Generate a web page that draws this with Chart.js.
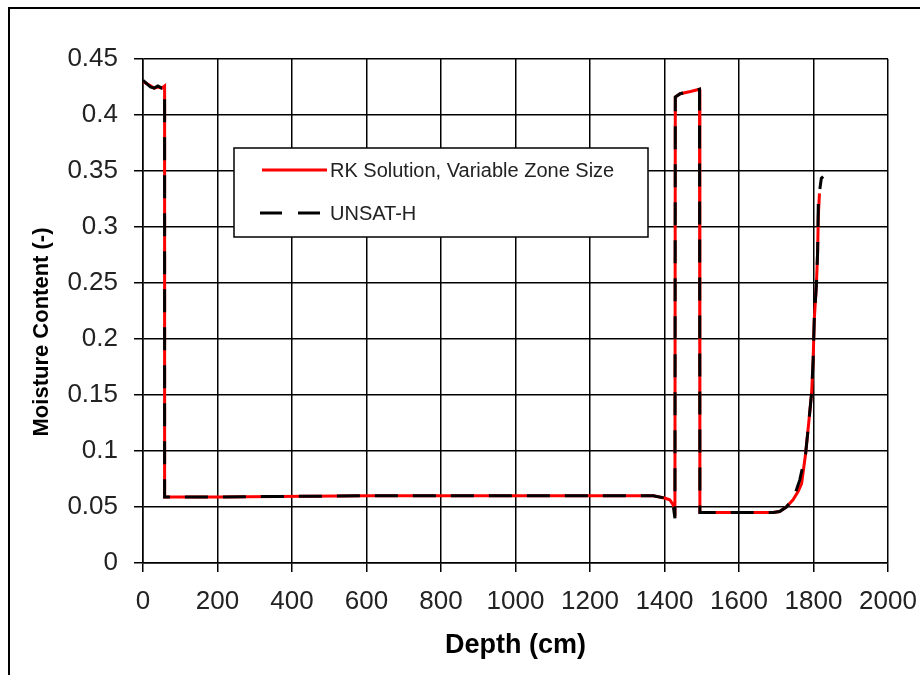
<!DOCTYPE html>
<html>
<head>
<meta charset="utf-8">
<script src="https://cdn.jsdelivr.net/npm/chart.js@4"></script>
<style>
  html, body { margin: 0; padding: 0; background: #fff; }
  #wrap { width: 920px; height: 675px; }
</style>
</head>
<body>
<div id="wrap"><canvas id="chart" width="920" height="675"></canvas></div>
<script>
// ===============================
// Données
// ===============================
const rkDepth = [0, 10, 20, 30, 40, 50, 58, 58, 200, 600, 1000, 1370, 1400, 1414, 1423, 1428,
  1429, 1442, 1470, 1494, 1495, 1600, 1692, 1709, 1727, 1745, 1759, 1768, 1779, 1788, 1795,
  1799, 1802, 1808, 1811, 1813, 1816];
const rkMoisture = [0.430, 0.428, 0.426, 0.424, 0.425, 0.424, 0.426, 0.059, 0.059, 0.060, 0.060,
  0.060, 0.058, 0.0565, 0.052, 0.048, 0.416, 0.419, 0.421, 0.423, 0.045, 0.045, 0.045, 0.046,
  0.050, 0.0565, 0.064, 0.071, 0.098, 0.128, 0.152, 0.181, 0.217, 0.250, 0.277, 0.31, 0.33];

const unsatDepth = [0, 10, 20, 30, 40, 50, 58, 58, 200, 600, 1000, 1370, 1400, 1414, 1423, 1428,
  1429, 1442, 1470, 1494, 1495, 1600, 1692, 1709, 1727, 1736, 1745, 1763, 1779, 1788, 1795,
  1799, 1802, 1808, 1811, 1813, 1821, 1826];
const unsatMoisture = [0.431, 0.428, 0.425, 0.424, 0.426, 0.424, 0.425, 0.059, 0.059, 0.060, 0.060,
  0.060, 0.058, 0.0565, 0.052, 0.040, 0.416, 0.419, 0.421, 0.423, 0.045, 0.045, 0.045, 0.046,
  0.050, 0.0535, 0.0565, 0.074, 0.098, 0.128, 0.152, 0.181, 0.217, 0.250, 0.277, 0.324, 0.3435, 0.345];

const seriesLabels = ["RK Solution, Variable Zone Size", "UNSAT-H"];
const xTitle = "Depth (cm)";
const yTitle = "Moisture Content (-)";

const toPoints = (xs, ys) => xs.map((x, i) => ({ x: x, y: ys[i] }));

const fontFamily = "'Liberation Sans', Arial, sans-serif";

// ===============================
// Cadre, titre Y + légende maison
// ===============================
const framePlugin = {
  id: "frame",
  beforeDraw(chart) {
    const ctx = chart.ctx;
    ctx.save();
    ctx.fillStyle = "#fff";
    ctx.fillRect(0, 0, chart.width, chart.height);
    ctx.strokeStyle = "#000";
    ctx.lineWidth = 2;
    ctx.beginPath();
    ctx.moveTo(9, chart.height + 5);
    ctx.lineTo(9, 8);
    ctx.lineTo(chart.width + 5, 8);
    ctx.stroke();
    ctx.restore();
  },
  afterDraw(chart) {
    const ctx = chart.ctx;
    ctx.save();

    // titre axe Y (un peu sous le centre, comme l'original)
    ctx.save();
    ctx.translate(42, 332);
    ctx.rotate(-Math.PI / 2);
    ctx.fillStyle = "#000";
    ctx.font = "bold 22px " + fontFamily;
    ctx.textAlign = "center";
    ctx.textBaseline = "middle";
    ctx.fillText(yTitle, 0, 0);
    ctx.restore();

    // légende
    ctx.fillStyle = "#fff";
    ctx.fillRect(234, 148, 414, 89);
    ctx.strokeStyle = "#000";
    ctx.lineWidth = 1.5;
    ctx.strokeRect(234, 148, 414, 89);

    ctx.lineWidth = 3;
    ctx.strokeStyle = "#ff0000";
    ctx.beginPath();
    ctx.moveTo(262, 170);
    ctx.lineTo(327, 170);
    ctx.stroke();

    ctx.strokeStyle = "#000";
    ctx.setLineDash([22, 16]);
    ctx.beginPath();
    ctx.moveTo(260, 213);
    ctx.lineTo(322, 213);
    ctx.stroke();
    ctx.setLineDash([]);

    ctx.fillStyle = "#222";
    ctx.font = "20px " + fontFamily;
    ctx.textBaseline = "middle";
    ctx.fillText(seriesLabels[0], 330, 171);
    ctx.fillText(seriesLabels[1], 330, 214);
    ctx.restore();
  }
};

// ===============================
// Graphique
// ===============================
const tickFont = { family: fontFamily, size: 26 };

new Chart(document.getElementById("chart"), {
  type: "scatter",
  data: {
    datasets: [{
      label: seriesLabels[0],
      data: toPoints(rkDepth, rkMoisture),
      showLine: true,
      borderColor: "#ff0000",
      borderWidth: 3,
      pointRadius: 0,
      order: 1
    },
    {
      label: seriesLabels[1],
      data: toPoints(unsatDepth, unsatMoisture),
      showLine: true,
      borderColor: "#000",
      borderWidth: 3,
      borderDash: [23, 15],
      pointRadius: 0,
      order: 0
    }]
  },
  options: {
    responsive: false,
    animation: false,
    layout: { padding: { left: 0, top: 59, right: 32, bottom: 0 } },
    plugins: {
      legend: { display: false },
      tooltip: { enabled: false }
    },
    scales: {
      x: {
        type: "linear",
        min: 0,
        max: 2000,
        afterFit: (s) => { s.height = 112; s.paddingLeft = 0; s.paddingRight = 0; },
        ticks: {
          stepSize: 200, color: "#222", font: tickFont, padding: 14, maxRotation: 0,
          callback: (v) => String(v)
        },
        grid: { color: "#000", lineWidth: 1.5, tickLength: 9 },
        border: { color: "#000", width: 1.5 },
        title: {
          display: true, text: xTitle, color: "#000",
          font: { family: fontFamily, size: 27, weight: "bold" },
          padding: { top: 0, bottom: 13 }
        }
      },
      y: {
        min: 0,
        max: 0.45,
        afterFit: (s) => { s.width = 143; s.paddingTop = 0; s.paddingBottom = 0; },
        ticks: {
          stepSize: 0.05, color: "#222", font: tickFont, padding: 16,
          callback: (v) => String(Number(v.toFixed(2)))
        },
        grid: { color: "#000", lineWidth: 1.5, tickLength: 9 },
        border: { color: "#000", width: 1.5 }
      }
    }
  },
  plugins: [framePlugin]
});
</script>
</body>
</html>
